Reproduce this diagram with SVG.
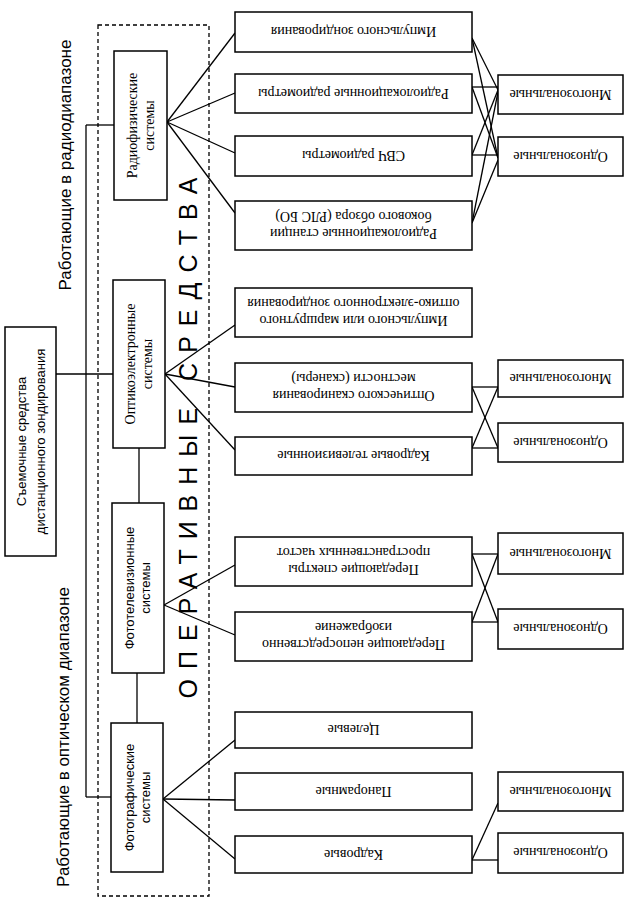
<svg xmlns="http://www.w3.org/2000/svg" width="631" height="904" viewBox="0 0 631 904">
<style>
.box{fill:#fff;stroke:#000;stroke-width:1.5}
.ln{stroke:#000;stroke-width:1.3;fill:none}
.dash{fill:none;stroke:#000;stroke-width:1.3;stroke-dasharray:4,3}
.s{font-family:"Liberation Serif","Times New Roman",serif;font-size:14px;fill:#000;text-anchor:middle}
.a{font-family:"Liberation Sans",Arial,sans-serif;font-size:13px;fill:#000;text-anchor:middle}
.lab{font-family:"Liberation Sans",Arial,sans-serif;font-size:17px;fill:#000;text-anchor:middle}
.big{font-family:"Liberation Sans",Arial,sans-serif;font-size:25px;fill:#000;text-anchor:middle;letter-spacing:10px}
</style>
<rect class="dash" x="98" y="25" width="111" height="871"/>
<text class="lab" transform="translate(71,165) rotate(-90)">Работающие в радиодиапазоне</text>
<text class="lab" transform="translate(69,737) rotate(-90)">Работающие в оптическом диапазоне</text>
<text class="big" transform="translate(197,433) rotate(-90)">ОПЕРАТИВНЫЕ СРЕДСТВА</text>
<g id="connectors">
<line class="ln" x1="56" y1="374" x2="113" y2="374"/>
<line class="ln" x1="86" y1="125" x2="86" y2="797"/>
<line class="ln" x1="86" y1="125" x2="114" y2="125"/>
<line class="ln" x1="86" y1="797" x2="111" y2="797"/>
<line class="ln" x1="139" y1="448" x2="139" y2="503"/>
<line class="ln" x1="137" y1="673" x2="137" y2="723"/>
<line class="ln" x1="167" y1="122" x2="235" y2="33"/>
<line class="ln" x1="167" y1="122" x2="235" y2="93"/>
<line class="ln" x1="167" y1="122" x2="235" y2="153"/>
<line class="ln" x1="167" y1="122" x2="235" y2="213"/>
<line class="ln" x1="165" y1="374" x2="235" y2="325"/>
<line class="ln" x1="165" y1="374" x2="235" y2="387"/>
<line class="ln" x1="165" y1="374" x2="235" y2="450"/>
<line class="ln" x1="164" y1="605" x2="235" y2="565"/>
<line class="ln" x1="164" y1="605" x2="235" y2="635"/>
<line class="ln" x1="163" y1="799" x2="235" y2="740"/>
<line class="ln" x1="163" y1="799" x2="235" y2="800"/>
<line class="ln" x1="163" y1="799" x2="235" y2="859"/>
<line class="ln" x1="472" y1="38" x2="498" y2="90"/>
<line class="ln" x1="472" y1="38" x2="498" y2="158"/>
<line class="ln" x1="472" y1="87" x2="498" y2="87"/>
<line class="ln" x1="472" y1="87" x2="498" y2="158"/>
<line class="ln" x1="472" y1="155" x2="498" y2="155"/>
<line class="ln" x1="472" y1="155" x2="498" y2="90"/>
<line class="ln" x1="472" y1="223" x2="498" y2="92"/>
<line class="ln" x1="472" y1="223" x2="498" y2="160"/>
<line class="ln" x1="472" y1="387" x2="498" y2="387"/>
<line class="ln" x1="472" y1="387" x2="498" y2="448"/>
<line class="ln" x1="472" y1="448" x2="498" y2="448"/>
<line class="ln" x1="472" y1="448" x2="498" y2="387"/>
<line class="ln" x1="472" y1="554" x2="498" y2="554"/>
<line class="ln" x1="472" y1="554" x2="498" y2="622"/>
<line class="ln" x1="472" y1="622" x2="498" y2="622"/>
<line class="ln" x1="472" y1="622" x2="498" y2="554"/>
<line class="ln" x1="472" y1="860" x2="498" y2="860"/>
<line class="ln" x1="472" y1="860" x2="498" y2="803"/>
</g>
<g id="root"><rect class="box" x="5" y="327" width="51" height="229"/>
<text class="a" font-size="13.5" transform="rotate(-90 30.5 441.5)"><tspan x="30.5" y="437">Съемочные средства</tspan><tspan x="30.5" y="456">дистанционного зондирования</tspan></text></g>
<g id="radiophys"><rect class="box" x="114" y="51" width="53" height="149"/>
<text class="s" transform="rotate(-90 140.5 125.5)"><tspan x="140.5" y="122">Радиофизические</tspan><tspan x="140.5" y="139">системы</tspan></text></g>
<g id="optoel"><rect class="box" x="113" y="280" width="52" height="168"/>
<text class="s" transform="rotate(-90 139 364)"><tspan x="139" y="360">Оптикоэлектронные</tspan><tspan x="139" y="377">системы</tspan></text></g>
<g id="phototv"><rect class="box" x="112" y="503" width="52" height="170"/>
<text class="a" transform="rotate(-90 138 588)"><tspan x="138" y="584">Фототелевизионные</tspan><tspan x="138" y="600">системы</tspan></text></g>
<g id="photo"><rect class="box" x="111" y="723" width="52" height="149"/>
<text class="a" transform="rotate(-90 137 797.5)"><tspan x="137" y="794">Фотографические</tspan><tspan x="137" y="810">системы</tspan></text></g>
<g id="m1"><rect class="box" x="235" y="12" width="237" height="40"/>
<text class="s" transform="rotate(180 353.5 32)" x="353.5" y="37">Импульсного зондирования</text></g>
<g id="m2"><rect class="box" x="235" y="74" width="237" height="39"/>
<text class="s" transform="rotate(180 353.5 93.5)" x="353.5" y="98.5">Радиолокационные радиометры</text></g>
<g id="m3"><rect class="box" x="235" y="136" width="237" height="40"/>
<text class="s" transform="rotate(180 353.5 156)" x="353.5" y="161">СВЧ радиометры</text></g>
<g id="m4"><rect class="box" x="235" y="201" width="237" height="49"/>
<text class="s" transform="rotate(180 353.5 225.5)"><tspan x="353.5" y="222">Радиолокационные станции</tspan><tspan x="353.5" y="239">бокового обзора (РЛС БО)</tspan></text></g>
<g id="m5"><rect class="box" x="235" y="288" width="237" height="49"/>
<text class="s" transform="rotate(180 353.5 312.5)"><tspan x="353.5" y="309">Импульсного или маршрутного</tspan><tspan x="353.5" y="326">оптико-электронного зондирования</tspan></text></g>
<g id="m6"><rect class="box" x="235" y="363" width="237" height="49"/>
<text class="s" transform="rotate(180 353.5 387.5)"><tspan x="353.5" y="384">Оптического сканирования</tspan><tspan x="353.5" y="401">местности (сканеры)</tspan></text></g>
<g id="m7"><rect class="box" x="235" y="437" width="237" height="38"/>
<text class="s" transform="rotate(180 353.5 456)" x="353.5" y="461">Кадровые телевизионные</text></g>
<g id="m8"><rect class="box" x="235" y="537" width="237" height="49"/>
<text class="s" transform="rotate(180 353.5 561.5)"><tspan x="353.5" y="558">Передающие спектры</tspan><tspan x="353.5" y="575">пространственных частот</tspan></text></g>
<g id="m9"><rect class="box" x="235" y="612" width="237" height="49"/>
<text class="s" transform="rotate(180 353.5 636.5)"><tspan x="353.5" y="633">Передающие непосредственно</tspan><tspan x="353.5" y="650">изображение</tspan></text></g>
<g id="m10"><rect class="box" x="235" y="712" width="237" height="36"/>
<text class="s" transform="rotate(180 353.5 730)" x="353.5" y="735">Целевые</text></g>
<g id="m11"><rect class="box" x="235" y="773" width="237" height="37"/>
<text class="s" transform="rotate(180 353.5 791.5)" x="353.5" y="796.5">Панорамные</text></g>
<g id="m12"><rect class="box" x="235" y="836" width="237" height="37"/>
<text class="s" transform="rotate(180 353.5 854.5)" x="353.5" y="859.5">Кадровые</text></g>
<g id="r1"><rect class="box" x="498" y="75" width="125" height="39"/>
<text class="s" transform="rotate(180 560.5 94.5)" x="560.5" y="99.5">Многозональные</text></g>
<g id="r2"><rect class="box" x="498" y="137" width="125" height="39"/>
<text class="s" transform="rotate(180 560.5 156.5)" x="560.5" y="161.5">Однозональные</text></g>
<g id="r3"><rect class="box" x="498" y="360" width="125" height="37"/>
<text class="s" transform="rotate(180 560.5 378.5)" x="560.5" y="383.5">Многозональные</text></g>
<g id="r4"><rect class="box" x="498" y="423" width="125" height="39"/>
<text class="s" transform="rotate(180 560.5 442.5)" x="560.5" y="447.5">Однозональные</text></g>
<g id="r5"><rect class="box" x="498" y="533" width="125" height="41"/>
<text class="s" transform="rotate(180 560.5 553.5)" x="560.5" y="558.5">Многозональные</text></g>
<g id="r6"><rect class="box" x="498" y="609" width="125" height="40"/>
<text class="s" transform="rotate(180 560.5 629)" x="560.5" y="634">Однозональные</text></g>
<g id="r7"><rect class="box" x="498" y="772" width="125" height="39"/>
<text class="s" transform="rotate(180 560.5 791.5)" x="560.5" y="796.5">Многозональные</text></g>
<g id="r8"><rect class="box" x="498" y="833" width="125" height="40"/>
<text class="s" transform="rotate(180 560.5 853)" x="560.5" y="858">Однозональные</text></g>
</svg>
